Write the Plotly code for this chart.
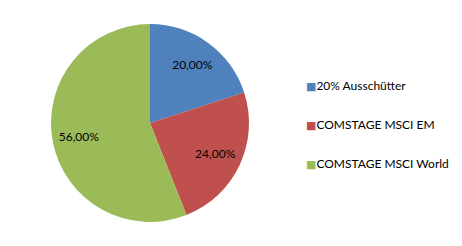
import plotly.graph_objects as go

labels = ["20% Ausschütter", "COMSTAGE MSCI EM", "COMSTAGE MSCI World"]
values = [20, 24, 56]
colors = ["#4F81BD", "#C0504D", "#9BBB59"]

W, H = 462, 246
font_family = "Lato, Open Sans, sans-serif"
dom = dict(x=[51 / W, 249 / W], y=[24 / H, 222 / H])

fig = go.Figure()
# filled pie
fig.add_trace(go.Pie(
    labels=labels, values=values, sort=False, direction="clockwise", rotation=0,
    marker=dict(colors=colors, line=dict(width=0)),
    textinfo="none", domain=dom, showlegend=False, hoverinfo="label+percent",
))
# transparent ring carrying the percentage labels
fig.add_trace(go.Pie(
    labels=labels, values=values, sort=False, direction="clockwise", rotation=0,
    hole=0.46,
    marker=dict(colors=["rgba(0,0,0,0)"] * 3, line=dict(width=0)),
    texttemplate="%{percent:.2%}", textposition="inside",
    insidetextorientation="horizontal",
    textfont=dict(color="black", size=12, family=font_family),
    domain=dom, showlegend=False, hoverinfo="skip",
))

# legend entries: coloured square glyph right next to the label
for i, (lab, col) in enumerate(zip(labels, colors)):
    fig.add_trace(go.Scatter(
        x=[None], y=[None], mode="markers", legendgroup=f"g{i}",
        name=f'<span style="color:{col};font-family:DejaVu Sans;font-size:11px">■</span>{lab}',
        marker=dict(symbol="square", size=8, color="rgba(0,0,0,0)"),
        showlegend=True,
    ))

fig.update_layout(
    width=W, height=H, margin=dict(l=0, r=0, t=0, b=0, autoexpand=False),
    paper_bgcolor="white", plot_bgcolor="white",
    separators=",.",
    xaxis=dict(visible=False), yaxis=dict(visible=False),
    legend=dict(x=266 / W, y=1 - 71 / H, xanchor="left", yanchor="top",
                tracegroupgap=20, itemwidth=30,
                font=dict(size=12, family=font_family, color="black"),
                bgcolor="rgba(0,0,0,0)"),
    font=dict(family=font_family),
)
fig.write_html("out.html")
